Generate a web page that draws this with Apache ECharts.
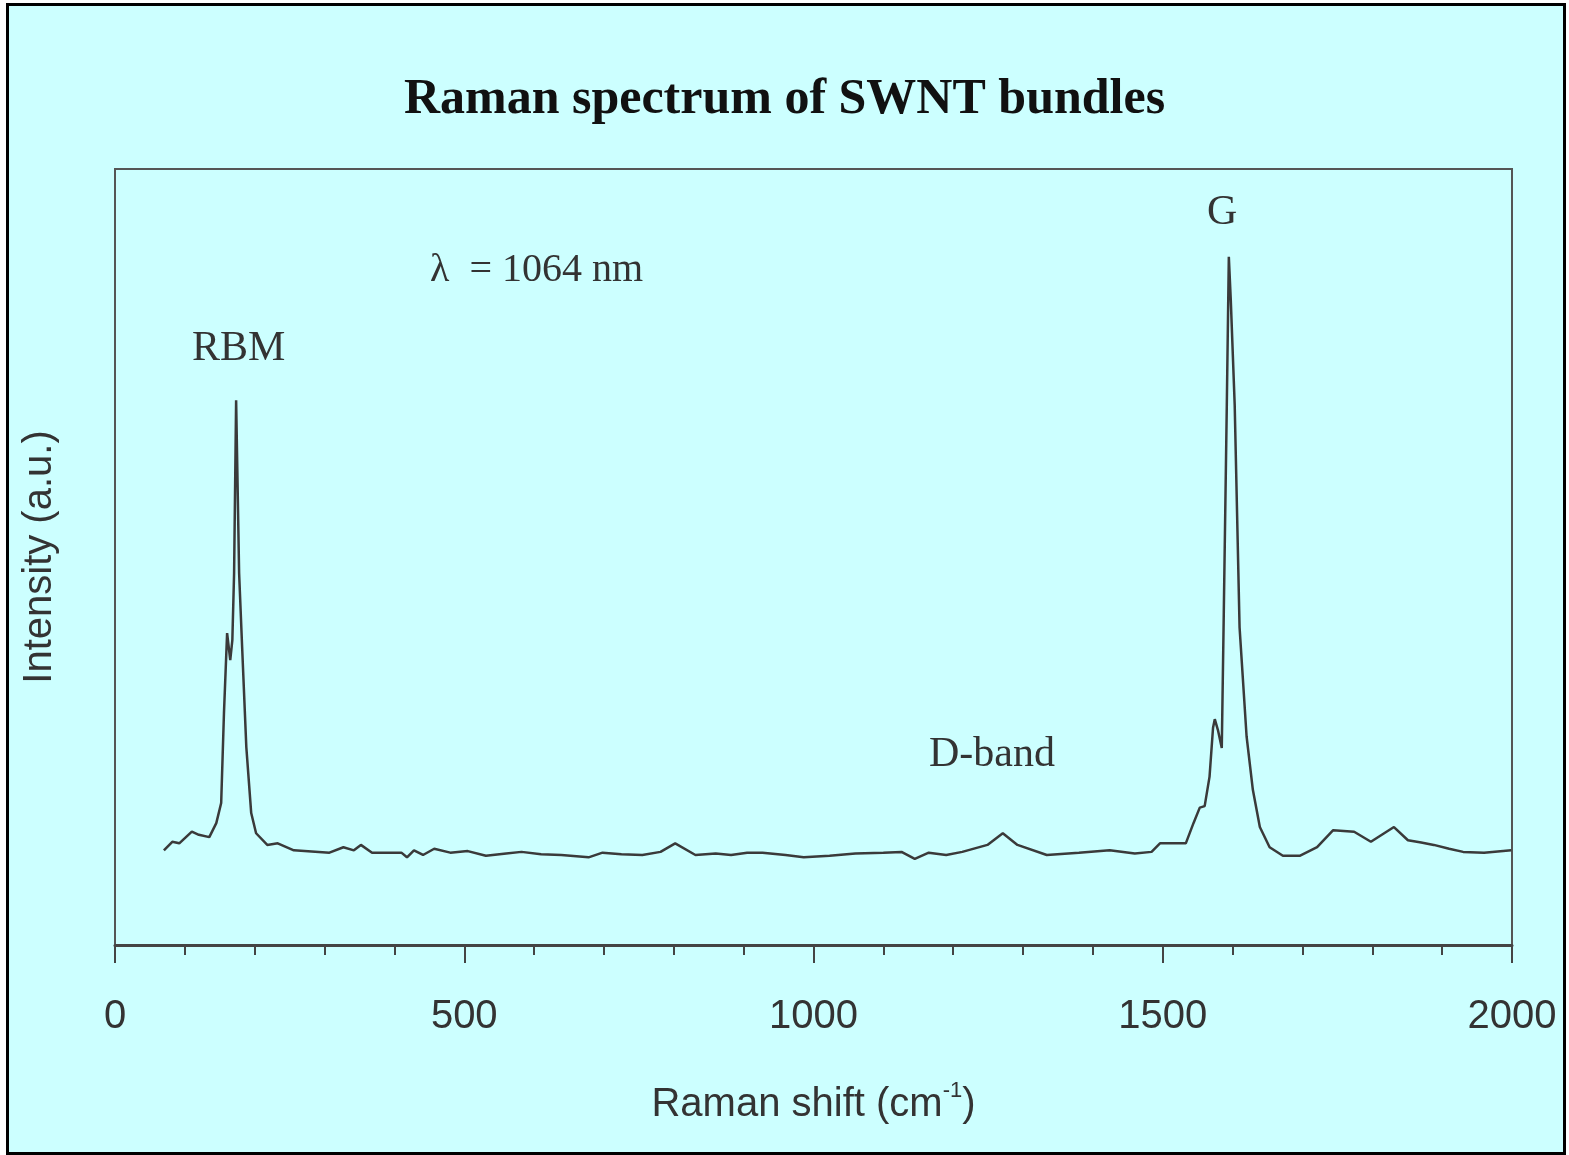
<!DOCTYPE html>
<html>
<head>
<meta charset="utf-8">
<script src="https://cdn.jsdelivr.net/npm/echarts@6/dist/echarts.min.js"></script>
<style>
  html, body { margin: 0; padding: 0; background: #ffffff; }
  #frame { position: absolute; left: 6px; top: 3px; width: 1554px; height: 1146px; border: 3px solid #000; background: #ccffff; }
  #main { position: absolute; left: 0; top: 0; width: 1569px; height: 1155px; }
</style>
</head>
<body>
<div id="frame"></div>
<div id="main"></div>
<script>
// Data
const ramanShift = [70, 82, 92, 110, 120, 135, 145, 152, 156, 160.5, 165, 168, 170.5, 173.4, 177.7, 182, 188, 195, 202, 218, 233, 256, 307, 327, 342, 352, 368, 410, 418, 428, 441, 457, 480, 505, 531, 560, 582, 610, 639, 678, 698, 725, 755, 781, 802, 831, 860, 882, 905, 927, 960, 986, 1023, 1060, 1100, 1126, 1145, 1165, 1190, 1213, 1249, 1271, 1292, 1334, 1380, 1424, 1460, 1484, 1496, 1533, 1544, 1553, 1560, 1567, 1572, 1574.5, 1579, 1584.5, 1587.4, 1591.7, 1594.6, 1597.4, 1603, 1610, 1620, 1629, 1639, 1653, 1672, 1696, 1721, 1744, 1774, 1798, 1831, 1851, 1870, 1888, 1910, 1930, 1960, 1999];
const intensity = [12.2, 13.3, 13.1, 14.6, 14.2, 13.9, 15.7, 18.3, 29.9, 40.2, 36.7, 39.3, 47.9, 70.2, 47.9, 38.4, 25.5, 17.0, 14.4, 12.9, 13.1, 12.2, 11.9, 12.6, 12.2, 12.9, 11.9, 11.9, 11.3, 12.2, 11.6, 12.4, 11.9, 12.1, 11.5, 11.8, 12.0, 11.7, 11.6, 11.3, 11.9, 11.7, 11.6, 12.0, 13.1, 11.6, 11.8, 11.6, 11.9, 11.9, 11.6, 11.3, 11.5, 11.8, 11.9, 12.0, 11.1, 11.9, 11.6, 12.0, 12.9, 14.4, 12.9, 11.6, 11.9, 12.2, 11.8, 12.0, 13.1, 13.1, 15.7, 17.7, 17.9, 21.7, 28.0, 29.1, 27.7, 25.4, 42.9, 69.6, 88.7, 83.1, 69.6, 40.9, 26.9, 20.0, 15.2, 12.6, 11.5, 11.5, 12.6, 14.8, 14.6, 13.3, 15.2, 13.5, 13.2, 12.9, 12.4, 12.0, 11.9, 12.2];
const xTicks = [0, 500, 1000, 1500, 2000];
const title = 'Raman spectrum of SWNT bundles';
const xName = 'Raman shift (cm';
const yName = 'Intensity (a.u.)';
const notes = ['RBM', 'λ  = 1064 nm', 'G', 'D-band'];

const chart = echarts.init(document.getElementById('main'), null, { renderer: 'canvas' });
const serif = '"Liberation Serif", "DejaVu Serif", serif';
const sans = '"Liberation Sans", Arial, sans-serif';

chart.setOption({
  backgroundColor: 'transparent',
  animation: false,
  title: {
    text: title,
    left: 'center',
    top: 70,
    textStyle: { fontFamily: serif, fontWeight: 'bold', fontSize: 50, color: '#111' }
  },
  grid: {
    left: 115, right: 57, top: 169, bottom: 210,
    show: true, borderColor: '#555', borderWidth: 2, backgroundColor: 'transparent'
  },
  xAxis: {
    type: 'value',
    min: xTicks[0], max: xTicks[xTicks.length - 1], interval: 500,
    axisLine: { show: true, lineStyle: { color: '#444', width: 3 } },
    axisTick: { show: true, length: 18, lineStyle: { color: '#444', width: 2 } },
    minorTick: { show: true, splitNumber: 5, length: 10, lineStyle: { color: '#444', width: 2 } },
    splitLine: { show: false },
    axisLabel: { fontFamily: sans, fontSize: 40, color: '#333', margin: 52, formatter: v => String(v) },
    name: '{a|' + xName + '}{s|-1}{a|)}',
    nameLocation: 'middle',
    nameGap: 135,
    nameTextStyle: {
      rich: {
        a: { fontFamily: sans, fontSize: 40, color: '#333' },
        s: { fontFamily: sans, fontSize: 22, color: '#333', verticalAlign: 'top', padding: [0, 0, 28, 0] }
      }
    }
  },
  yAxis: {
    type: 'value', min: 0, max: 100,
    axisLine: { show: true, lineStyle: { color: '#555', width: 2 } },
    axisTick: { show: false },
    axisLabel: { show: false },
    splitLine: { show: false },
    name: yName,
    nameLocation: 'middle',
    nameGap: 55,
    nameRotate: 90,
    nameTextStyle: { fontFamily: sans, fontSize: 40, color: '#333' }
  },
  series: [{
    type: 'line',
    data: ramanShift.map((x, i) => [x, intensity[i]]),
    showSymbol: false,
    symbol: 'none',
    smooth: false,
    lineStyle: { color: '#3a3a3a', width: 2.5 }
  }],
  graphic: [
    { type: 'text', left: 192, top: 328, style: { text: notes[0], font: '42px ' + serif, fill: '#333' } },
    { type: 'text', left: 430, top: 250, style: { text: notes[1], font: '40px ' + serif, fill: '#333' } },
    { type: 'text', left: 1207, top: 192, style: { text: notes[2], font: '42px ' + serif, fill: '#333' } },
    { type: 'text', left: 929, top: 734, style: { text: notes[3], font: '42px ' + serif, fill: '#333' } }
  ]
});
</script>
</body>
</html>
